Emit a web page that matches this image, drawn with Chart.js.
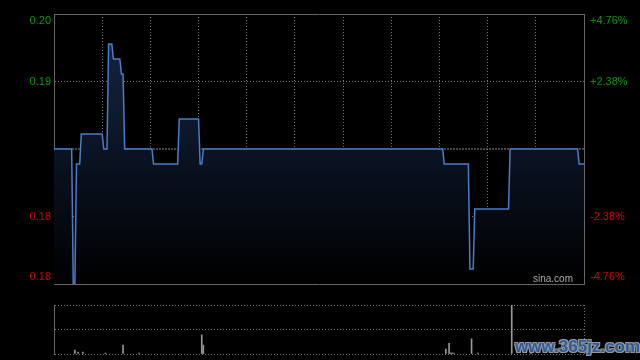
<!DOCTYPE html>
<html>
<head>
<meta charset="utf-8">
<title>分时走势</title>
<script src="https://cdn.jsdelivr.net/npm/chart.js@4.4.1/dist/chart.umd.min.js"></script>
<style>
  html, body { margin: 0; padding: 0; background: #000; }
  #wrap { position: relative; width: 640px; height: 360px; overflow: hidden; background: #000; }
  #chartPrice { position: absolute; left: 0; top: 0; }
  #chartVol { position: absolute; left: 0; top: 295px; }
  .sina {
    position: absolute; right: 67px; top: 274px;
    font: 10px 'Liberation Sans', Arial, sans-serif; line-height: 10px; color: #aaa;
  }
  .mark {
    position: absolute; left: 515px; top: 337px;
    font: bold 17px 'Liberation Sans', Arial, sans-serif; line-height: 20px; color: #2b5c9e;
    text-shadow: 1px 1px 0 #999, -1px -1px 0 #999, 1px -1px 0 #999, -1px 1px 0 #999;
  }
</style>
</head>
<body>
<div id="wrap">
  <canvas id="chartPrice" width="640" height="300"></canvas>
  <canvas id="chartVol" width="640" height="65"></canvas>
  <div class="sina">sina.com</div>
  <div class="mark">www.365jz.com</div>
</div>
<script>
// minute index (0 = 09:30, 330 = 16:00) where the price changes
const minutes = [0, 11, 12, 13, 14, 16, 17, 30, 31, 33, 34, 36, 37, 41, 42, 43, 44, 61, 62, 77,
                 78, 90, 91, 92, 93, 242, 243, 258, 259, 261, 262, 283, 284, 326, 327, 330];
const prices = [0.189, 0.189, 0.180, 0.180, 0.188, 0.188, 0.190, 0.190, 0.189, 0.189, 0.196, 0.196,
                0.195, 0.195, 0.194, 0.194, 0.189, 0.189, 0.188, 0.188, 0.191, 0.191, 0.188, 0.188,
                0.189, 0.189, 0.188, 0.188, 0.181, 0.181, 0.185, 0.185, 0.189, 0.189, 0.188, 0.188];
const preClose = 0.189;
const lastMinute = 330;

const priceTicks = [0.180, 0.1845, 0.1935, 0.198];
const priceLabels = ['0.18', '0.18', '0.19', '0.20'];
const pctLabels = ['-4.76%', '-2.38%', '+2.38%', '+4.76%'];

const volMinutes = [13, 15, 18, 32, 43, 53, 92, 93, 244, 246, 247, 248, 249, 260, 264, 285, 297];
const volumes = [8, 4, 4, 2, 18, 2, 39, 18, 10, 22, 2, 2, 2, 31, 2, 100, 4];
const volTicks = [0, 50, 100];

const green = '#009a00';
const red = '#d40000';
const gridColor = '#777';
const frameColor = '#666';
const font = { family: "'Liberation Sans', Arial, sans-serif", size: 11 };

// labels at the top and bottom edge sit inside the frame
function edgeLabel(text, index, count) {
    if (index === 0) return [text, ''];
    if (index === count - 1) return ['', text];
    return text;
}

const ctx = document.getElementById('chartPrice').getContext('2d');
const chartPrice = new Chart(ctx, {
    type: 'line',
    data: {
        datasets: [
            {
                label: 'price',
                data: minutes.map((m, i) => ({ x: m, y: prices[i] })),
                borderColor: '#4a7cc9',
                borderWidth: 1.5,
                backgroundColor: function(context) {
                    const area = context.chart.chartArea;
                    if (!area) return 'rgba(11,20,36,1)';
                    const g = context.chart.ctx.createLinearGradient(0, area.top, 0, area.bottom);
                    g.addColorStop(0, 'rgb(22,40,72)');
                    g.addColorStop(1, 'rgb(0,0,0)');
                    return g;
                },
                fill: 'start',
                tension: 0,
                pointRadius: 0,
                order: 0
            },
            {
                label: 'preClose',
                data: [{ x: 0, y: preClose }, { x: lastMinute, y: preClose }],
                borderColor: '#888',
                borderWidth: 1,
                borderDash: [2, 1],
                fill: false,
                pointRadius: 0,
                order: 1
            }
        ]
    },
    options: {
        responsive: false,
        animation: false,
        devicePixelRatio: 1,
        layout: { padding: { top: 14, bottom: 16, left: 0, right: 0 } },
        plugins: { legend: { display: false }, tooltip: { enabled: false } },
        scales: {
            x: {
                type: 'linear',
                min: 0,
                max: lastMinute,
                ticks: { display: false, stepSize: 30 },
                grid: {
                    drawTicks: false,
                    color: c => (c.index === 0 || c.tick.value === lastMinute) ? 'transparent' : gridColor
                },
                border: { display: true, color: frameColor, dash: [1, 2] },
                afterFit: scale => { scale.height = 0; }
            },
            xTop: {
                type: 'linear',
                position: 'top',
                min: 0,
                max: lastMinute,
                ticks: { display: false },
                grid: { display: false, drawTicks: false },
                border: { display: true, color: frameColor },
                afterFit: scale => { scale.height = 0; }
            },
            y: {
                min: priceTicks[0],
                max: priceTicks[priceTicks.length - 1],
                afterBuildTicks: scale => { scale.ticks = priceTicks.map(v => ({ value: v })); },
                ticks: {
                    padding: 3,
                    font: font,
                    color: c => c.tick.value > preClose ? green : red,
                    callback: (value, index) => edgeLabel(priceLabels[index], index, priceTicks.length)
                },
                grid: {
                    drawTicks: false,
                    color: c => (c.index === 0 || c.index === priceTicks.length - 1) ? 'transparent' : gridColor
                },
                border: { display: true, color: frameColor, dash: [1, 2] },
                afterFit: scale => { scale.width = 54; scale.paddingTop = 0; scale.paddingBottom = 0; }
            },
            yPct: {
                position: 'right',
                min: priceTicks[0],
                max: priceTicks[priceTicks.length - 1],
                afterBuildTicks: scale => { scale.ticks = priceTicks.map(v => ({ value: v })); },
                ticks: {
                    padding: 6,
                    font: font,
                    color: c => c.tick.value > preClose ? green : red,
                    callback: (value, index) => edgeLabel(pctLabels[index], index, priceTicks.length)
                },
                grid: { display: false, drawTicks: false },
                border: { display: true, color: frameColor },
                afterFit: scale => { scale.width = 56; scale.paddingTop = 0; scale.paddingBottom = 0; }
            }
        }
    }
});

const ctxVol = document.getElementById('chartVol').getContext('2d');
const chartVol = new Chart(ctxVol, {
    type: 'bar',
    data: {
        datasets: [
            {
                label: 'volume',
                data: volMinutes.map((m, i) => ({ x: m, y: volumes[i] })),
                backgroundColor: '#999',
                barThickness: 1,
                borderWidth: 0
            }
        ]
    },
    options: {
        responsive: false,
        animation: false,
        devicePixelRatio: 1,
        layout: { padding: { top: 10, bottom: 6, left: 0, right: 56 } },
        plugins: { legend: { display: false }, tooltip: { enabled: false } },
        scales: {
            x: {
                type: 'linear',
                min: 0,
                max: lastMinute,
                offset: false,
                afterBuildTicks: scale => { scale.ticks = [{ value: lastMinute }]; },
                ticks: { display: false },
                grid: { offset: false, drawTicks: false, color: gridColor },
                border: { display: false, dash: [1, 2] },
                afterFit: scale => { scale.height = 0; }
            },
            y: {
                min: 0,
                max: volTicks[volTicks.length - 1],
                afterBuildTicks: scale => { scale.ticks = volTicks.map(v => ({ value: v })); },
                ticks: { display: false },
                grid: { drawTicks: false, color: gridColor },
                border: { display: true, color: frameColor, dash: [1, 2] },
                afterFit: scale => { scale.width = 54; scale.paddingTop = 0; scale.paddingBottom = 0; }
            }
        }
    }
});
</script>
</body>
</html>
